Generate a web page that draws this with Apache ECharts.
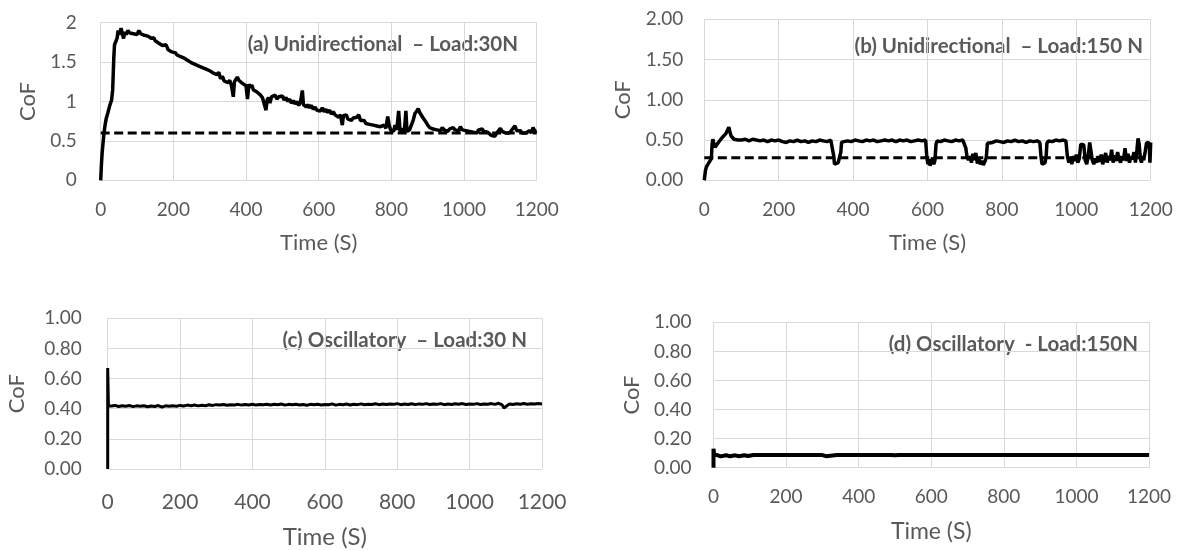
<!DOCTYPE html>
<html>
<head>
<meta charset="utf-8">
<script src="https://cdn.jsdelivr.net/npm/echarts@6/dist/echarts.min.js"></script>
<style>
html,body{margin:0;padding:0;background:#fff;}
#chart{width:1179px;height:551px;}
</style>
</head>
<body>
<div id="chart"></div>
<script>
// ---- data (Time s, CoF) ----
const aData = [[0,0],[2,0.2],[4,0.35],[6,0.45],[9,0.6],[12,0.7],[15,0.78],[20,0.86],[25,0.95],[30,1.02],[33,1.15],[36,1.55],[38,1.72],[42,1.7],[45,1.8],[48,1.9],[52,1.85],[56,1.93],[60,1.95],[63,1.8],[66,1.88],[70,1.85],[75,1.9],[80,1.87],[85,1.89],[90,1.86],[95,1.88],[100,1.85],[105,1.9],[110,1.86],[115,1.88],[120,1.84],[125,1.86],[130,1.83],[135,1.84],[140,1.8],[146,1.81],[150,1.77],[155,1.78],[160,1.74],[165,1.76],[170,1.71],[175,1.69],[180,1.72],[185,1.66],[190,1.64],[195,1.63],[200,1.61],[205,1.62],[210,1.59],[215,1.6],[220,1.57],[225,1.58],[230,1.55],[235,1.56],[240,1.52],[245,1.53],[250,1.49],[255,1.51],[260,1.47],[265,1.48],[270,1.45],[275,1.46],[280,1.43],[285,1.45],[290,1.41],[295,1.42],[300,1.39],[305,1.41],[310,1.36],[315,1.38],[320,1.34],[325,1.37],[330,1.29],[335,1.32],[340,1.26],[345,1.28],[350,1.24],[355,1.27],[360,1.2],[365,1.06],[368,1.25],[372,1.28],[376,1.31],[380,1.27],[385,1.29],[390,1.23],[395,1.25],[400,1.2],[404,1.03],[408,1.22],[412,1.18],[416,1.21],[420,1.15],[425,1.17],[430,1.12],[435,1.1],[440,1.08],[445,1.05],[450,1.03],[455,0.89],[458,1.02],[462,1.05],[466,0.98],[470,1.06],[475,1.04],[480,1.08],[485,1.03],[490,1.06],[495,1.04],[500,1.07],[505,1.02],[510,1.05],[515,1.0],[520,1.03],[525,0.98],[530,1.01],[535,0.97],[540,1.0],[545,0.95],[550,1.0],[555,1.14],[558,0.96],[562,0.98],[566,0.93],[570,0.96],[575,0.92],[580,0.95],[585,0.9],[590,0.93],[595,0.89],[600,0.91],[605,0.88],[610,0.92],[615,0.87],[620,0.9],[625,0.86],[630,0.89],[635,0.84],[640,0.87],[645,0.83],[650,0.85],[655,0.8],[660,0.83],[665,0.7],[668,0.82],[672,0.8],[676,0.83],[680,0.78],[685,0.8],[690,0.76],[695,0.79],[700,0.77],[705,0.8],[710,0.83],[715,0.76],[720,0.74],[725,0.76],[730,0.72],[735,0.74],[740,0.71],[745,0.73],[750,0.7],[755,0.72],[760,0.69],[765,0.71],[770,0.68],[775,0.66],[780,0.7],[785,0.66],[790,0.81],[794,0.7],[798,0.64],[802,0.66],[806,0.62],[810,0.7],[815,0.64],[820,0.88],[824,0.62],[828,0.66],[832,0.6],[836,0.64],[840,0.88],[843,0.62],[847,0.6],[850,0.64],[855,0.7],[860,0.76],[865,0.85],[870,0.88],[874,0.91],[878,0.86],[882,0.84],[886,0.8],[890,0.78],[895,0.74],[900,0.7],[905,0.67],[910,0.69],[915,0.65],[920,0.67],[925,0.64],[930,0.66],[935,0.63],[940,0.67],[945,0.64],[950,0.66],[955,0.62],[960,0.65],[965,0.63],[970,0.67],[975,0.64],[980,0.66],[985,0.63],[990,0.68],[995,0.64],[1000,0.66],[1005,0.63],[1010,0.65],[1015,0.62],[1020,0.64],[1025,0.61],[1030,0.63],[1035,0.6],[1040,0.64],[1045,0.62],[1050,0.65],[1055,0.62],[1060,0.64],[1065,0.61],[1070,0.6],[1075,0.57],[1080,0.59],[1085,0.56],[1090,0.6],[1095,0.62],[1100,0.66],[1105,0.62],[1110,0.64],[1115,0.6],[1120,0.58],[1125,0.6],[1130,0.62],[1135,0.66],[1140,0.69],[1145,0.63],[1150,0.61],[1155,0.63],[1160,0.6],[1165,0.62],[1170,0.6],[1175,0.61],[1180,0.63],[1185,0.6],[1190,0.67],[1195,0.62],[1200,0.63]];
const aRef = 0.6;

const bData = [[0,0],[3,0.12],[6,0.17],[10,0.2],[15,0.22],[19,0.27],[21,0.45],[23,0.51],[26,0.45],[29,0.41],[33,0.44],[38,0.46],[43,0.5],[48,0.53],[53,0.55],[58,0.58],[62,0.6],[66,0.66],[69,0.6],[72,0.55],[76,0.53],[80,0.51],[85,0.53],[90,0.5],[95,0.52],[100,0.5],[110,0.51],[120,0.49],[130,0.51],[140,0.5],[150,0.49],[160,0.5],[170,0.48],[180,0.5],[190,0.49],[200,0.5],[210,0.48],[220,0.47],[230,0.49],[240,0.48],[250,0.5],[260,0.48],[270,0.49],[280,0.47],[290,0.49],[300,0.48],[310,0.5],[320,0.49],[330,0.48],[340,0.5],[345,0.49],[348,0.3],[350,0.2],[355,0.18],[360,0.22],[364,0.2],[367,0.35],[369,0.47],[375,0.48],[385,0.49],[395,0.48],[405,0.5],[415,0.49],[425,0.48],[435,0.5],[445,0.49],[455,0.5],[465,0.48],[475,0.49],[485,0.5],[495,0.49],[505,0.5],[515,0.48],[525,0.5],[535,0.49],[545,0.5],[555,0.48],[565,0.49],[575,0.5],[585,0.49],[595,0.5],[598,0.3],[601,0.2],[604,0.26],[607,0.18],[610,0.24],[614,0.28],[617,0.2],[620,0.25],[623,0.45],[626,0.49],[635,0.48],[645,0.5],[655,0.49],[665,0.48],[675,0.5],[685,0.49],[695,0.5],[700,0.48],[703,0.4],[706,0.3],[710,0.25],[714,0.3],[718,0.22],[722,0.33],[726,0.25],[730,0.34],[734,0.21],[738,0.27],[742,0.2],[746,0.24],[750,0.19],[754,0.23],[758,0.28],[761,0.46],[764,0.48],[775,0.47],[785,0.49],[795,0.48],[805,0.47],[815,0.49],[825,0.48],[835,0.5],[845,0.48],[855,0.49],[865,0.47],[875,0.49],[885,0.48],[895,0.49],[902,0.47],[905,0.3],[908,0.2],[912,0.19],[916,0.22],[919,0.3],[921,0.46],[925,0.49],[935,0.48],[945,0.5],[955,0.49],[965,0.5],[972,0.49],[976,0.3],[980,0.22],[984,0.28],[988,0.2],[992,0.3],[996,0.24],[1000,0.32],[1004,0.22],[1008,0.27],[1012,0.45],[1016,0.47],[1020,0.44],[1024,0.25],[1028,0.2],[1032,0.3],[1036,0.47],[1040,0.45],[1043,0.25],[1047,0.2],[1051,0.27],[1055,0.22],[1059,0.3],[1063,0.23],[1067,0.32],[1071,0.2],[1075,0.27],[1079,0.34],[1083,0.22],[1087,0.3],[1091,0.25],[1095,0.38],[1099,0.22],[1103,0.31],[1107,0.24],[1111,0.35],[1115,0.27],[1119,0.22],[1123,0.3],[1127,0.25],[1131,0.4],[1135,0.24],[1139,0.33],[1143,0.22],[1147,0.3],[1151,0.26],[1155,0.35],[1159,0.22],[1163,0.38],[1166,0.52],[1169,0.45],[1172,0.28],[1175,0.22],[1178,0.3],[1181,0.25],[1185,0.35],[1189,0.47],[1193,0.48],[1196,0.46],[1198,0.22],[1200,0.47]];
const bRef = 0.28;

const cData = [[0,0],[0,0.67],[2,0.42],[10,0.418],[20,0.422],[30,0.415],[40,0.42],[50,0.417],[60,0.421],[70,0.414],[80,0.419],[90,0.416],[100,0.42],[110,0.413],[120,0.418],[130,0.415],[140,0.421],[150,0.41],[160,0.419],[170,0.416],[180,0.42],[190,0.417],[200,0.422],[210,0.418],[220,0.424],[230,0.42],[240,0.425],[250,0.419],[260,0.423],[270,0.42],[280,0.426],[290,0.422],[300,0.427],[310,0.424],[320,0.428],[330,0.423],[340,0.427],[350,0.425],[360,0.429],[370,0.424],[380,0.428],[390,0.425],[400,0.43],[410,0.424],[420,0.428],[430,0.426],[440,0.43],[450,0.425],[460,0.429],[470,0.427],[480,0.431],[490,0.424],[500,0.429],[510,0.426],[520,0.43],[530,0.425],[540,0.428],[550,0.423],[560,0.429],[570,0.426],[580,0.43],[590,0.425],[600,0.428],[610,0.426],[620,0.432],[630,0.424],[640,0.429],[650,0.427],[660,0.431],[670,0.425],[680,0.43],[690,0.427],[700,0.432],[710,0.426],[720,0.43],[730,0.428],[740,0.433],[750,0.427],[760,0.431],[770,0.428],[780,0.432],[790,0.429],[800,0.434],[810,0.427],[820,0.431],[830,0.428],[840,0.433],[850,0.427],[860,0.432],[870,0.429],[880,0.434],[890,0.428],[900,0.432],[910,0.429],[920,0.434],[930,0.427],[940,0.431],[950,0.428],[960,0.433],[970,0.43],[980,0.434],[990,0.428],[1000,0.432],[1010,0.429],[1020,0.434],[1030,0.428],[1040,0.432],[1050,0.43],[1060,0.434],[1070,0.429],[1080,0.436],[1090,0.425],[1095,0.405],[1100,0.418],[1110,0.432],[1120,0.428],[1130,0.433],[1140,0.43],[1150,0.435],[1160,0.429],[1170,0.433],[1180,0.431],[1190,0.434],[1200,0.432]];

const dData = [[0,0],[0,0.13],[2,0.09],[10,0.087],[20,0.078],[25,0.088],[35,0.086],[45,0.079],[50,0.088],[60,0.085],[70,0.079],[75,0.088],[85,0.086],[95,0.08],[100,0.088],[110,0.087],[130,0.088],[150,0.087],[170,0.088],[190,0.087],[210,0.088],[230,0.088],[245,0.087],[250,0.079],[255,0.088],[280,0.088],[300,0.087],[310,0.079],[315,0.088],[340,0.088],[370,0.087],[400,0.088],[430,0.088],[450,0.087],[455,0.079],[460,0.088],[480,0.087],[485,0.08],[490,0.088],[500,0.086],[505,0.079],[510,0.088],[540,0.088],[570,0.087],[585,0.088],[590,0.079],[595,0.088],[630,0.088],[660,0.087],[680,0.088],[685,0.079],[690,0.088],[720,0.087],[735,0.088],[740,0.08],[745,0.088],[780,0.088],[820,0.087],[860,0.088],[900,0.088],[940,0.087],[980,0.088],[1020,0.088],[1035,0.087],[1040,0.079],[1045,0.088],[1060,0.087],[1065,0.08],[1070,0.088],[1100,0.088],[1130,0.087],[1160,0.088],[1190,0.088],[1200,0.087]];

const xTicksMax = 1200;
const titles = ['(a) Unidirectional  – Load:30N', '(b) Unidirectional  – Load:150 N', '(c) Oscillatory  – Load:30 N', '(d) Oscillatory  - Load:150N'];

// ---- layout ----
const gray = '#595959';
const gridColor = '#d9d9d9';
const FONT = 'Lato, "Open Sans", sans-serif';

const grids = [
  {left:100.7, top:22.7, width:436, height:157.6},
  {left:704.3, top:19.3, width:446.4, height:161},
  {left:107.7, top:318.3, width:434.3, height:150.7},
  {left:713.5, top:322.3, width:435.5, height:145.4}
];
const yCfg = [
  {max:2, interval:0.5, fmt:v=>String(v), margin:24, nameGap:62},
  {max:2, interval:0.5, fmt:v=>v.toFixed(2), margin:21, nameGap:70},
  {max:1, interval:0.2, fmt:v=>v.toFixed(2), margin:26, nameGap:80},
  {max:1, interval:0.2, fmt:v=>v.toFixed(2), margin:22, nameGap:71}
];
const xCfg = [
  {margin:20, fs:19, nameGap:52, nfs:22},
  {margin:20, fs:19, nameGap:52, nfs:22},
  {margin:23, fs:21, nameGap:56, nfs:24},
  {margin:20, fs:19, nameGap:52, nfs:23}
];

const xAxis = grids.map((g,i)=>({
  type:'value', gridIndex:i, min:0, max:xTicksMax, interval:200,
  axisLine:{show:false}, axisTick:{show:false},
  splitLine:{show:true, lineStyle:{color:gridColor, width:1}},
  axisLabel:{color:gray, fontSize:xCfg[i].fs, fontFamily:FONT, margin:xCfg[i].margin, formatter:v=>String(v)},
  name:'Time (S)', nameLocation:'middle', nameGap:xCfg[i].nameGap,
  nameTextStyle:{color:gray, fontSize:xCfg[i].nfs, fontFamily:FONT}
}));
const yAxis = grids.map((g,i)=>({
  type:'value', gridIndex:i, min:0, max:yCfg[i].max, interval:yCfg[i].interval,
  axisLine:{show:false}, axisTick:{show:false},
  splitLine:{show:true, lineStyle:{color:gridColor, width:1}},
  axisLabel:{color:gray, fontSize:19, fontFamily:FONT, margin:yCfg[i].margin, formatter:yCfg[i].fmt},
  name:'CoF', nameLocation:'middle', nameGap:yCfg[i].nameGap,
  nameTextStyle:{color:gray, fontSize:22, fontFamily:FONT}
}));

function line(data, i, w){
  return {type:'line', xAxisIndex:i, yAxisIndex:i, data:data, showSymbol:false, symbol:'none',
    lineStyle:{color:'#000', width:w}, silent:true, animation:false};
}
function dash(v, i){
  return {type:'line', xAxisIndex:i, yAxisIndex:i, data:[[0,v],[xTicksMax,v]], showSymbol:false, symbol:'none',
    lineStyle:{color:'#000', width:3, type:[9,4.5]}, silent:true, animation:false};
}

const titleRight = [[518,44],[1143,46],[527,340],[1138,344]];
const graphic = titles.map((t,i)=>({
  type:'text', x:titleRight[i][0], y:titleRight[i][1], silent:true,
  style:{text:t, fill:gray, font:'bold 20.5px ' + FONT, textAlign:'right', textVerticalAlign:'middle'}
}));

const option = {
  backgroundColor:'#fff',
  animation:false,
  grid: grids.map(g=>Object.assign({containLabel:false}, g)),
  xAxis, yAxis,
  series:[
    line(aData,0,3.5), dash(aRef,0),
    line(bData,1,3.5), dash(bRef,1),
    line(cData,2,3),
    line(dData,3,4)
  ],
  graphic
};
const chart = echarts.init(document.getElementById('chart'), null, {renderer:'canvas'});
chart.setOption(option);
</script>
</body>
</html>
